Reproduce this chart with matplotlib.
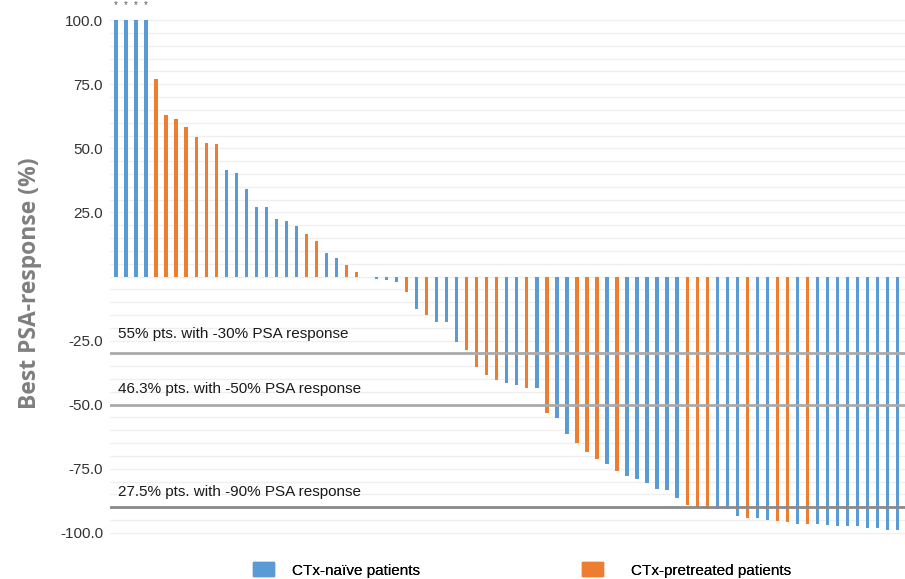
import numpy as np
import matplotlib
matplotlib.use("Agg")
import matplotlib.pyplot as plt
from matplotlib.patches import Patch

# best PSA response per patient, sorted (waterfall)
psa_response = [100, 100, 100, 100, 77.0, 63.0, 61.4, 58.3, 54.3, 52.0,
                51.7, 41.7, 40.3, 34.3, 27.1, 27.1, 22.3, 21.8, 19.7, 16.4,
                13.9, 9.0, 7.4, 4.4, 1.9, 0.0, -1.0, -1.4, -2.0, -6.0,
                -12.5, -15.2, -17.9, -17.9, -25.7, -28.8, -35.3, -38.4, -40.5, -41.7,
                -42.2, -43.4, -43.6, -53.4, -55.2, -61.6, -64.9, -68.4, -71.2, -73.0,
                -75.8, -77.8, -79.2, -80.6, -82.9, -83.2, -86.5, -89.1, -90.3, -90.6,
                -90.9, -90.9, -93.6, -94.3, -94.3, -95.1, -95.5, -95.8, -96.4, -96.6,
                -96.6, -97.0, -97.3, -97.3, -97.5, -98.1, -98.3, -98.8, -98.8]
# N = CTx-naive, P = CTx-pretreated
group = list("NNNNPPPPPPPNNNNNNNNPPNNPPNNNNPNPNNNPPPPNNPNPNNPPPNPNNNNNNPPPNNNPNNPPNPNNNNNNNNN")

yticks = [100, 75, 50, 25, -25, -50, -75, -100]
thresholds = [-30, -50, -90]
threshold_labels = ["55% pts. with -30% PSA response",
                    "46.3% pts. with -50% PSA response",
                    "27.5% pts. with -90% PSA response"]
legend_labels = ["CTx-naïve patients", "CTx-pretreated patients"]

BLUE = "#5B9BD5"
ORANGE = "#ED7D31"

plt.rcParams['font.family'] = ['Liberation Sans', 'DejaVu Sans']

fig = plt.figure(figsize=(9.05, 5.79), dpi=100)
ax = fig.add_axes([110 / 905, 1 - 540.5 / 579, 795 / 905, 528 / 579])

x = np.arange(len(psa_response))
colors = [BLUE if g == "N" else ORANGE for g in group]
ax.bar(x, psa_response, width=0.33, color=colors, zorder=2)

# stars over the capped bars
for xi, v in zip(x, psa_response):
    if v >= 100:
        ax.text(xi, 106, "*", ha="center", va="center", fontsize=7,
                color="#595959", clip_on=False)

# threshold lines and labels
line_colors = ["#ABABAB", "#ABABAB", "#8A8A8A"]
label_y = [-22.4, -43.9, -84.0]
for t, lab, c, ly in zip(thresholds, threshold_labels, line_colors, label_y):
    ax.axhline(t, color=c, lw=2, zorder=3)
    ax.text(0.2, ly, lab, ha="left", va="center", fontsize=11, color="#1A1A1A")

ax.set_xlim(-0.6, 78.74)
ax.set_ylim(-103, 103)
ax.set_yticks(np.arange(-100, 101, 5), minor=True)
ax.set_yticks(yticks)
ax.set_yticklabels([f"{v:.1f}" for v in yticks], fontsize=11, color="#333333")
ax.grid(axis="y", which="both", color="#EFEFEF", lw=0.9, zorder=0)
ax.set_axisbelow(True)
ax.tick_params(axis="y", which="both", length=0, pad=5)
ax.set_xticks([])
for s in ax.spines.values():
    s.set_visible(False)

fig.text(30 / 905, 1 - 283 / 579, "Best PSA-response (%)", rotation=90,
         ha="center", va="center", fontsize=16.5, fontweight="bold",
         color="#7F7F7F", family=["Open Sans", "DejaVu Sans"])

# legend: two separately placed entries
leg_x = [253 / 905, 582 / 905]
leg_pad = [1.2, 1.85]
for h_col, lab, lx, pad in zip([BLUE, ORANGE], legend_labels, leg_x, leg_pad):
    leg = fig.legend([Patch(color=h_col)], [lab], loc="center left",
                     bbox_to_anchor=(lx, 1 - 570 / 579), frameon=False,
                     fontsize=11, handlelength=1.37, handleheight=1.0,
                     handletextpad=pad, borderpad=0, borderaxespad=0)
    fig.add_artist(leg)

fig.savefig("out.png", dpi=100)
